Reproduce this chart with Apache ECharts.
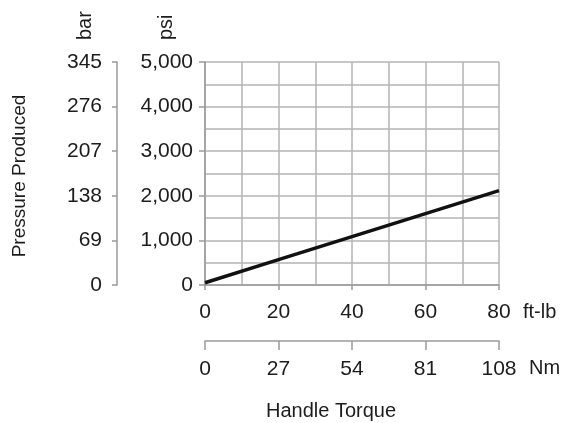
<!DOCTYPE html>
<html>
<head>
<meta charset="utf-8">
<script src="https://cdn.jsdelivr.net/npm/echarts@6/dist/echarts.min.js"></script>
<style>html,body{margin:0;padding:0;background:#fff;}#c{width:561px;height:423px;}</style>
</head>
<body>
<div id="c"></div>
<script>
const torqueFtLb = [0, 20, 40, 60, 80];
const pressurePsi = [50, 570, 1085, 1600, 2115];
const psiTicks = [0, 1000, 2000, 3000, 4000, 5000];
const barTicks = [0, 69, 138, 207, 276, 345];
const ftLbTicks = [0, 20, 40, 60, 80];
const nmTicks = [0, 27, 54, 81, 108];

const FONT = 'Liberation Sans, Arial, sans-serif';
const TXT = '#1c1c1c';
const AX = '#9a9a9a';
const GRID = '#b4b4b4';
const TICK_FS = 21;
const NAME_FONT = '20px ' + FONT;

const chart = echarts.init(document.getElementById('c'), null, {renderer: 'canvas'});
chart.setOption({
  animation: false,
  backgroundColor: '#fff',
  grid: {left: 205, right: 62, top: 62, bottom: 138, containLabel: false},
  xAxis: [{
    type: 'value', position: 'bottom',
    min: ftLbTicks[0], max: ftLbTicks[ftLbTicks.length - 1], interval: 20,
    axisLine: {show: true, lineStyle: {color: AX, width: 1.5}},
    axisTick: {show: true, length: 5, lineStyle: {color: AX, width: 1.5}},
    axisLabel: {color: TXT, fontSize: TICK_FS, fontFamily: FONT, margin: 17},
    splitLine: {show: true, lineStyle: {color: GRID, width: 1.5}},
    minorTick: {show: false, splitNumber: 2},
    minorSplitLine: {show: true, lineStyle: {color: GRID, width: 1.5}}
  }, {
    type: 'value', position: 'bottom', offset: 56,
    min: nmTicks[0], max: nmTicks[nmTicks.length - 1], interval: 27,
    axisLine: {show: true, onZero: false, lineStyle: {color: AX, width: 1.5}},
    axisTick: {show: true, length: 9, lineStyle: {color: AX, width: 1.5}},
    axisLabel: {color: TXT, fontSize: TICK_FS, fontFamily: FONT, margin: 18},
    splitLine: {show: false}
  }],
  yAxis: [{
    type: 'value', position: 'left',
    min: psiTicks[0], max: psiTicks[psiTicks.length - 1], interval: 1000,
    axisLine: {show: true, lineStyle: {color: AX, width: 1.5}},
    axisTick: {show: true, length: 6, lineStyle: {color: AX, width: 1.5}},
    axisLabel: {color: TXT, fontSize: TICK_FS, fontFamily: FONT, margin: 12,
      formatter: v => v.toLocaleString('en-US')},
    splitLine: {show: true, lineStyle: {color: GRID, width: 1.5}},
    minorTick: {show: false, splitNumber: 2},
    minorSplitLine: {show: true, lineStyle: {color: GRID, width: 1.5}}
  }, {
    type: 'value', position: 'left', offset: 88,
    min: barTicks[0], max: barTicks[barTicks.length - 1], interval: 69,
    axisLine: {show: true, onZero: false, lineStyle: {color: AX, width: 1.5}},
    axisTick: {show: true, length: 5, lineStyle: {color: AX, width: 1.5}},
    axisLabel: {color: TXT, fontSize: TICK_FS, fontFamily: FONT, margin: 15},
    splitLine: {show: false}
  }],
  series: [{
    type: 'line', xAxisIndex: 0, yAxisIndex: 0,
    data: torqueFtLb.map((t, i) => [t, pressurePsi[i]]),
    showSymbol: false, symbol: 'none',
    lineStyle: {color: '#111', width: 3.5}
  }],
  graphic: [
    {type: 'text', x: 85, y: 40, rotation: Math.PI / 2,
      style: {text: 'bar', fill: TXT, font: NAME_FONT, textAlign: 'left', verticalAlign: 'middle'}},
    {type: 'text', x: 166, y: 40, rotation: Math.PI / 2,
      style: {text: 'psi', fill: TXT, font: NAME_FONT, textAlign: 'left', verticalAlign: 'middle'}},
    {type: 'text', x: 20, y: 176, rotation: Math.PI / 2,
      style: {text: 'Pressure Produced', fill: TXT, font: '19px ' + FONT, textAlign: 'center', verticalAlign: 'middle'}},
    {type: 'text', x: 523, y: 312,
      style: {text: 'ft-lb', fill: TXT, font: NAME_FONT, textAlign: 'left', verticalAlign: 'middle'}},
    {type: 'text', x: 529, y: 368,
      style: {text: 'Nm', fill: TXT, font: NAME_FONT, textAlign: 'left', verticalAlign: 'middle'}},
    {type: 'text', x: 331, y: 411,
      style: {text: 'Handle Torque', fill: TXT, font: NAME_FONT, textAlign: 'center', verticalAlign: 'middle'}}
  ]
});
</script>
</body>
</html>
